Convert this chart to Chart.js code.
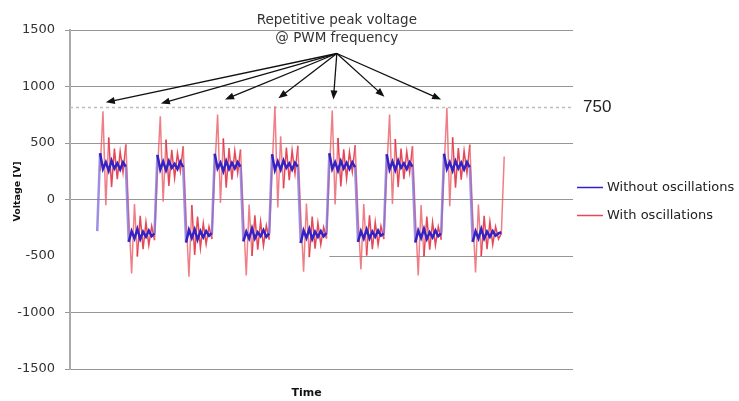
<!DOCTYPE html>
<html>
<head>
<meta charset="utf-8">
<title>Repetitive peak voltage</title>
<script src="https://cdn.jsdelivr.net/npm/chart.js@4.4.1/dist/chart.umd.min.js"></script>
<style>
  html, body { margin: 0; padding: 0; background: #fff; }
  canvas { display: block; }
</style>
</head>
<body>
<canvas id="voltChart" width="739" height="401"></canvas>
<script>
// sample times (arbitrary units, one PWM period = 10)
const timeUs = [
  4.5,
  5, 5.5, 6, 6.5, 7, 7.5, 8, 8.5, 9, 9.5, 10, 10.5, 11, 11.5, 12, 12.5, 13, 13.5, 14, 14.5,
  15, 15.5, 16, 16.5, 17, 17.5, 18, 18.5, 19, 19.5, 20, 20.5, 21, 21.5, 22, 22.5, 23, 23.5, 24, 24.5,
  25, 25.5, 26, 26.5, 27, 27.5, 28, 28.5, 29, 29.5, 30, 30.5, 31, 31.5, 32, 32.5, 33, 33.5, 34, 34.5,
  35, 35.5, 36, 36.5, 37, 37.5, 38, 38.5, 39, 39.5, 40, 40.5, 41, 41.5, 42, 42.5, 43, 43.5, 44, 44.5,
  45, 45.5, 46, 46.5, 47, 47.5, 48, 48.5, 49, 49.5, 50, 50.5, 51, 51.5, 52, 52.5, 53, 53.5, 54, 54.5,
  55, 55.5, 56, 56.5, 57, 57.5, 58, 58.5, 59, 59.5, 60, 60.5, 61, 61.5, 62, 62.5, 63, 63.5, 64, 64.5,
  65, 65.5, 66, 66.5, 67, 67.5, 68, 68.5, 69, 69.5, 70, 70.5, 71, 71.5, 72, 72.5, 73, 73.5, 74, 74.5,
  75, 75.5
];

// Without oscillations [V]
const voltWithout = [
  -280,
  410, 270, 330, 255, 345, 275, 320, 265, 330, 290,  -375, -280, -345, -260, -350, -285, -330, -275, -325, -300,
  395, 265, 335, 260, 340, 280, 315, 270, 335, 285,  -380, -270, -340, -265, -355, -280, -335, -280, -320, -295,
  405, 275, 325, 250, 340, 270, 325, 275, 330, 290,  -370, -285, -345, -255, -345, -290, -325, -270, -330, -300,
  400, 260, 335, 265, 345, 280, 320, 265, 325, 290,  -385, -275, -340, -260, -350, -285, -330, -280, -325, -295,
  410, 270, 330, 255, 340, 275, 325, 270, 330, 285,  -375, -280, -345, -265, -345, -285, -330, -275, -320, -300,
  400, 265, 335, 260, 345, 280, 320, 270, 330, 290,  -380, -275, -340, -260, -350, -290, -335, -275, -325, -300,
  405, 270, 330, 255, 340, 275, 325, 265, 330, 285,  -375, -280, -345, -260, -345, -285, -330, -280, -320, -300,
  -290, null
];

// With oscillations [V]
const voltWith = [
  null,
  250, 781, -50, 548, 110, 450, 180, 425, 240, 487,  -140, -655, -40, -505, -145, -440, -200, -405, -235, -360,
  240, 737, -20, 530, 120, 440, 190, 410, 250, 470,  -160, -684, -50, -490, -150, -430, -210, -395, -240, -350,
  260, 752, -30, 540, 105, 455, 175, 430, 235, 442,  -150, -672, -45, -500, -140, -445, -195, -410, -230, -355,
  270, 826, -70, 560, 100, 460, 170, 435, 230, 475,  -130, -640, -35, -510, -150, -435, -205, -400, -245, -345,
  250, 788, -45, 545, 115, 445, 185, 420, 245, 480,  -150, -620, -40, -495, -140, -440, -200, -400, -235, -350,
  245, 752, -40, 535, 110, 450, 180, 425, 240, 470,  -145, -672, -50, -505, -150, -445, -200, -405, -240, -355,
  265, 811, -60, 550, 105, 455, 175, 430, 235, 485,  -140, -646, -45, -500, -145, -440, -195, -400, -240, -350,
  -300, 380
];

const seriesNames = ['Without oscillations', 'With oscillations'];
const yTicks = [-1500, -1000, -500, 0, 500, 1000, 1500];

// callout: text, arrow origin and arrow tips (time, volt)
const noteLines = ['Repetitive peak voltage', '@ PWM frequency'];
const arrowFrom = [46.3, 1292];
const arrowTipTime = [6.0, 15.6, 26.8, 36.1, 45.7, 54.6, 64.5];
const arrowTipVolt = [860, 850, 885, 895, 885, 910, 885];
const refLevel = 820;
const refLabel = '750';
const gridGapEnd = 45; // -500 gridline only visible from here on

document.addEventListener('DOMContentLoaded', () => {
    const gridColor = '#969696';
    const blue = '#3322c4';
    const red = 'rgba(226, 52, 68, 0.9)';

    const drawArrow = (ctx, x0, y0, x1, y1) => {
        const a = Math.atan2(y1 - y0, x1 - x0);
        const c = Math.cos(a), s = Math.sin(a);
        ctx.beginPath();
        ctx.moveTo(x0, y0);
        ctx.lineTo(x1 - 6 * c, y1 - 6 * s);
        ctx.stroke();
        ctx.beginPath();
        ctx.moveTo(x1, y1);
        ctx.lineTo(x1 - 9 * c + 3.5 * s, y1 - 9 * s - 3.5 * c);
        ctx.lineTo(x1 - 9 * c - 3.5 * s, y1 - 9 * s + 3.5 * c);
        ctx.closePath();
        ctx.fill();
    };

    const notes = {
        id: 'notes',
        beforeDatasetsDraw(chart) {
            const { ctx, chartArea: area, scales: { x, y } } = chart;
            ctx.save();
            // dashed reference level
            const ry = Math.round(y.getPixelForValue(refLevel)) + 0.5;
            ctx.strokeStyle = '#bdbdbd';
            ctx.lineWidth = 1.5;
            ctx.setLineDash([3, 3]);
            ctx.beginPath();
            ctx.moveTo(area.left, ry);
            ctx.lineTo(area.right, ry);
            ctx.stroke();
            ctx.setLineDash([]);
            // partial -500 gridline
            const gy = Math.round(y.getPixelForValue(-500)) + 0.5;
            ctx.strokeStyle = gridColor;
            ctx.lineWidth = 1;
            ctx.beginPath();
            ctx.moveTo(x.getPixelForValue(gridGapEnd), gy);
            ctx.lineTo(area.right, gy);
            ctx.stroke();
            ctx.restore();
        },
        afterDraw(chart) {
            const { ctx, chartArea: area, scales: { x, y } } = chart;
            ctx.save();
            ctx.textBaseline = 'middle';

            // "750" label next to dashed line
            ctx.fillStyle = '#222';
            ctx.font = '17px "Liberation Sans", Arial, sans-serif';
            ctx.textAlign = 'left';
            ctx.fillText(refLabel, area.right + 10, y.getPixelForValue(refLevel));

            // callout text
            const ox = x.getPixelForValue(arrowFrom[0]);
            const oy = y.getPixelForValue(arrowFrom[1]);
            ctx.font = '13.5px "DejaVu Sans", sans-serif';
            ctx.fillStyle = '#333';
            ctx.textAlign = 'center';
            noteLines.forEach((line, i) => ctx.fillText(line, ox, area.top - 10 + i * 18));

            // arrows
            ctx.strokeStyle = '#111';
            ctx.fillStyle = '#111';
            ctx.lineWidth = 1.3;
            arrowTipTime.forEach((t, i) => {
                drawArrow(ctx, ox, oy, x.getPixelForValue(t), y.getPixelForValue(arrowTipVolt[i]));
            });

            // legend
            const midY = (area.top + area.bottom) / 2;
            ctx.font = '13px "DejaVu Sans", sans-serif';
            ctx.textAlign = 'left';
            chart.data.datasets.forEach((ds, i) => {
                const ly = Math.round(midY - 13 + i * 28) + 0.5;
                ctx.strokeStyle = ds.borderColor;
                ctx.lineWidth = 1.5;
                ctx.beginPath();
                ctx.moveTo(area.right + 4, ly);
                ctx.lineTo(area.right + 30, ly);
                ctx.stroke();
                ctx.fillStyle = '#222';
                ctx.fillText(ds.label, area.right + 34, ly);
            });

            // axis titles
            ctx.fillStyle = '#111';
            ctx.font = 'bold 11px "DejaVu Sans", sans-serif';
            ctx.textAlign = 'center';
            ctx.fillText('Time', (area.left + area.right) / 2 - 15, area.bottom + 24);
            ctx.save();
            ctx.translate(18, midY - 8);
            ctx.rotate(-Math.PI / 2);
            ctx.font = 'bold 9.5px "DejaVu Sans", sans-serif';
            ctx.fillText('Voltage [V]', 0, 0);
            ctx.restore();

            ctx.restore();
        }
    };

    const toPoints = vals => timeUs.map((t, i) => ({ x: t, y: vals[i] }));
    const bigJump = c => Math.abs(c.p1.parsed.y - c.p0.parsed.y) > 450;

    const ctx = document.getElementById('voltChart').getContext('2d');
    new Chart(ctx, {
        type: 'line',
        data: {
            datasets: [{
                label: seriesNames[0],
                data: toPoints(voltWithout),
                borderColor: blue,
                borderWidth: 2.5,
                pointRadius: 0,
                tension: 0,
                segment: {
                    borderColor: c => bigJump(c) ? 'rgba(125, 105, 215, 0.75)' : undefined
                }
            }, {
                label: seriesNames[1],
                data: toPoints(voltWith),
                borderColor: red,
                borderWidth: 1.5,
                pointRadius: 0,
                tension: 0,
                segment: {
                    borderColor: c => bigJump(c) ? 'rgba(235, 95, 105, 0.8)' : undefined
                }
            }]
        },
        options: {
            responsive: false,
            animation: false,
            layout: { padding: { left: 0, top: 30, right: 166, bottom: 32 } },
            plugins: {
                legend: { display: false },
                tooltip: { enabled: false }
            },
            scales: {
                x: {
                    type: 'linear',
                    min: -0.25,
                    max: 87.5,
                    display: false
                },
                y: {
                    min: -1500,
                    max: 1500,
                    afterBuildTicks: s => { s.ticks = yTicks.map(v => ({ value: v })); },
                    afterFit: s => { s.width = 70; },
                    ticks: {
                        color: '#333',
                        padding: 10,
                        font: { family: '"DejaVu Sans", sans-serif', size: 13 },
                        callback: v => String(v)
                    },
                    grid: {
                        color: c => c.tick && c.tick.value === -500 ? 'rgba(0,0,0,0)' : gridColor,
                        tickColor: c => c.tick && c.tick.value === -500 ? 'rgba(0,0,0,0)' : gridColor,
                        tickLength: 5,
                        lineWidth: 1
                    },
                    border: { color: '#aaaaaa', width: 2 }
                }
            }
        },
        plugins: [notes]
    });
});
</script>
</body>
</html>
